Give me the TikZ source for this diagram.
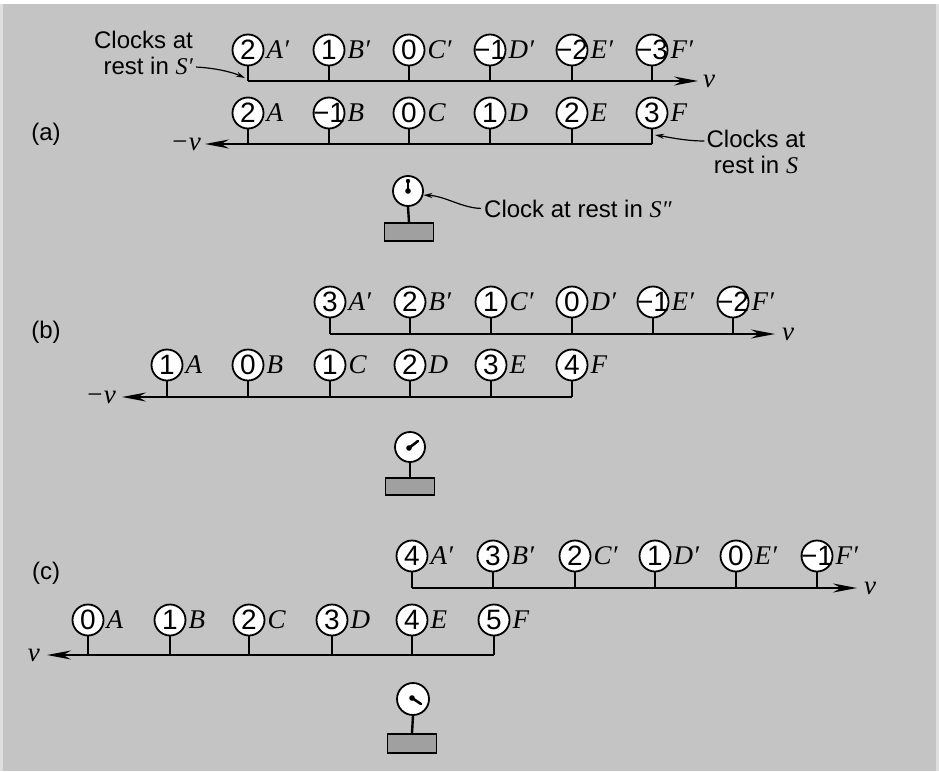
\documentclass[tikz,border=0pt]{standalone}
\usepackage{fontspec}
\setmainfont{Liberation Serif}
\setsansfont{Liberation Sans}
\usetikzlibrary{arrows.meta,calc}
\definecolor{bg}{RGB}{196,196,196}
\definecolor{basecol}{RGB}{160,160,160}
\newcommand\sym[1]{{\rmfamily\itshape #1}}
\tikzset{
 clock/.style={circle,draw,line width=1.8pt,fill=white,minimum size=31pt,inner sep=0pt,font=\sffamily\fontsize{28}{28}\selectfont},
 lbl/.style={inner sep=0pt,anchor=west,font=\rmfamily\itshape\fontsize{27}{27}\selectfont},
 stem/.style={line width=2.4pt},
 rail/.style={line width=1.8pt},
 railarrow/.style={rail,-{Stealth[length=24pt,width=9pt]}},
 callout/.style={line width=1.2pt,-{Stealth[length=9pt,width=5pt]}},
 note/.style={inner sep=0pt,font=\sffamily\fontsize{24}{26}\selectfont},
 vlbl/.style={inner sep=0pt,font=\rmfamily\itshape\fontsize{27}{27}\selectfont},
 obs/.style={circle,draw,line width=1.8pt,fill=white,minimum size=30pt,inner sep=0pt},
 basebox/.style={draw,line width=1.6pt,fill=basecol,minimum width=49pt,minimum height=18pt,inner sep=0pt},
 hand/.style={line width=2.6pt,line cap=round},
 panel/.style={inner sep=0pt,font=\sffamily\fontsize{24}{24}\selectfont},
}
% name, x, y, number, letter, rail y
\newcommand\clk[6]{%
 \node[clock] (#1) at (#2,#3) {\makebox[0pt]{#4}};
 \node[lbl] (#1l) at ([xshift=2pt]#1.east) {#5};
 \coordinate (#1b) at (#2,#6);
 \draw[stem] (#1.south) -- (#1b);}
\begin{document}
\begin{tikzpicture}[x=1pt,y=-1pt]
\useasboundingbox (0,0) rectangle (939,771);
\fill[bg] (0,0) rectangle (939,771);
\fill[white] (0,0) rectangle (939,4);
\fill[white!45!bg] (0,4) rectangle (3,771);
\fill[white!45!bg] (936,4) rectangle (939,771);

% ---------------- (a) ----------------
\node[panel] (pa) at (46,134) {(a)};
\clk{a1A}{248}{50}{2}{A′}{81}
\clk{a1B}{329}{50}{1}{B′}{81}
\clk{a1C}{409}{50}{0}{C′}{81}
\clk{a1D}{490}{50}{−1}{D′}{81}
\clk{a1E}{572}{50}{−2}{E′}{81}
\clk{a1F}{652}{50}{−3}{F′}{81}
\coordinate (ta1) at (698,81);
\draw[railarrow] (a1Ab) -- (ta1);
\node[vlbl,anchor=west] (va1) at ([xshift=5pt]ta1) {v};

\clk{a2A}{248}{113}{2}{A}{144}
\clk{a2B}{329}{113}{−1}{B}{144}
\clk{a2C}{409}{113}{0}{C}{144}
\clk{a2D}{490}{113}{1}{D}{144}
\clk{a2E}{572}{113}{2}{E}{144}
\clk{a2F}{652}{113}{3}{F}{144}
\coordinate (ta2) at (205,144);
\draw[railarrow] (a2Fb) -- (ta2);
\node[vlbl,anchor=east] (va2) at ([xshift=-4pt]ta2) {−v};

\node[note,align=right,anchor=north east] (nS1) at (193,31) {Clocks at\\rest in \sym{S′}};
\draw[callout] ($(nS1.south east)+(3,-8)$) .. controls (215,68) and (232,72) .. ($(a1Ab)+(-3,-3)$);
\node[note,align=center,anchor=north] (nS2) at (756,130) {Clocks at\\rest in \sym{S}};
\draw[callout] ($(nS2.north west)+(-2,11)$) .. controls (685,141) and (668,137) .. ($(a2Fb)+(3,-9)$);

\node[obs] (oa) at (408,191) {};
\node[basebox,anchor=north] (ba) at (409,222) {};
\draw[stem] (oa.south) -- (ba.north);
\fill (oa.center) circle (2.8pt);
\draw[hand] (oa.center) -- ++(0,-9);
\fill ($(oa.center)+(0,-10)$) circle (2.2pt);
\node[note,anchor=base west] (nS3) at (484,217) {Clock at rest in \sym{S″}};
\draw[callout] ($(nS3.west)+(-3,0)$) .. controls (462,208) and (445,196) .. (oa.-15);

% ---------------- (b) ----------------
\node[panel] (pb) at (46,332) {(b)};
\clk{b1A}{330}{302}{3}{A′}{334}
\clk{b1B}{410}{302}{2}{B′}{334}
\clk{b1C}{491}{302}{1}{C′}{334}
\clk{b1D}{572}{302}{0}{D′}{334}
\clk{b1E}{653}{302}{−1}{E′}{334}
\clk{b1F}{733}{302}{−2}{F′}{334}
\coordinate (tb1) at (775,334);
\draw[railarrow] (b1Ab) -- (tb1);
\node[vlbl,anchor=west] (vb1) at ([xshift=7pt]tb1) {v};

\clk{b2A}{167}{365}{1}{A}{397}
\clk{b2B}{248}{365}{0}{B}{397}
\clk{b2C}{330}{365}{1}{C}{397}
\clk{b2D}{410}{365}{2}{D}{397}
\clk{b2E}{491}{365}{3}{E}{397}
\clk{b2F}{572}{365}{4}{F}{397}
\coordinate (tb2) at (122,397);
\draw[railarrow] (b2Fb) -- (tb2);
\node[vlbl,anchor=east] (vb2) at ([xshift=-6pt]tb2) {−v};

\node[obs] (ob) at (410,447) {};
\node[basebox,anchor=north,minimum height=17pt] (bb) at (410,477) {};
\draw[stem] (ob.south) -- (bb.north);
\fill ($(ob.center)+(-1,1)$) circle (2.8pt);
\draw[hand] ($(ob.center)+(-1,1)$) -- ++(9,-7);

% ---------------- (c) ----------------
\node[panel] (pc) at (46,573) {(c)};
\clk{c1A}{412}{556}{4}{A′}{588}
\clk{c1B}{493}{556}{3}{B′}{588}
\clk{c1C}{575}{556}{2}{C′}{588}
\clk{c1D}{655}{556}{1}{D′}{588}
\clk{c1E}{736}{556}{0}{E′}{588}
\clk{c1F}{817}{556}{−1}{F′}{588}
\coordinate (tc1) at (857,588);
\draw[railarrow] (c1Ab) -- (tc1);
\node[vlbl,anchor=west] (vc1) at ([xshift=7pt]tc1) {v};

\clk{c2A}{88}{620}{0}{A}{655}
\clk{c2B}{170}{620}{1}{B}{655}
\clk{c2C}{249}{620}{2}{C}{655}
\clk{c2D}{332}{620}{3}{D}{655}
\clk{c2E}{412}{620}{4}{E}{655}
\clk{c2F}{494}{620}{5}{F}{655}
\coordinate (tc2) at (47,655);
\draw[railarrow] (c2Fb) -- (tc2);
\node[vlbl,anchor=east] (vc2) at ([xshift=-7pt]tc2) {v};

\node[obs,minimum size=32pt] (oc) at (413,699) {};
\node[basebox,anchor=north,minimum height=19pt] (bc) at (412,733) {};
\draw[stem] (oc.south) -- (bc.north);
\fill ($(oc.center)+(-1,-1)$) circle (2.8pt);
\draw[hand] ($(oc.center)+(-1,-1)$) -- ++(9,6);
\end{tikzpicture}
\end{document}
